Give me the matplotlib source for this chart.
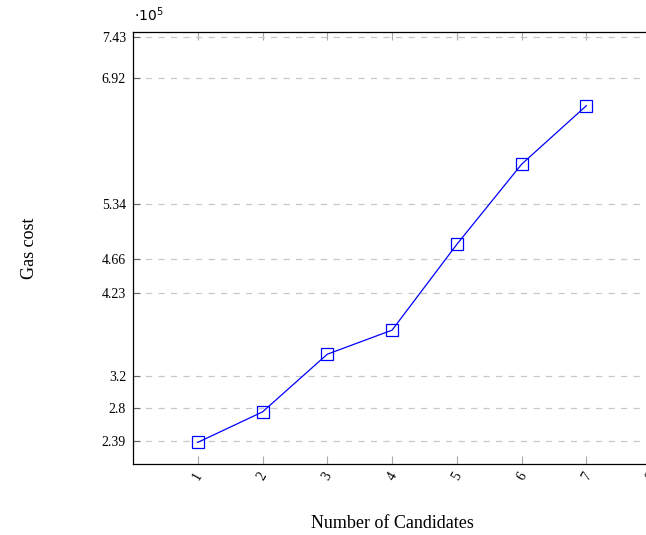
import matplotlib
matplotlib.use("Agg")
import matplotlib.pyplot as plt

plt.rcParams['font.family'] = ['Liberation Serif', 'DejaVu Serif']

# gas cost (x 10^5) per number of candidates
candidates = [1, 2, 3, 4, 5, 6, 7]
gas_cost = [2.37, 2.75, 3.47, 3.77, 4.84, 5.84, 6.57]

y_ticks = [2.39, 2.8, 3.2, 4.23, 4.66, 5.34, 6.92, 7.43]
y_tick_labels = ['2.39', '2.8', '3.2', '4.23', '4.66', '5.34', '6.92', '7.43']
x_ticks = [1, 2, 3, 4, 5, 6, 7, 8]

fig = plt.figure(figsize=(6.46, 5.35), dpi=100)
ax = fig.add_axes([0.2059, 0.1327, 0.802, 0.8075])

ax.plot(candidates, gas_cost, color='blue', linewidth=0.9,
        marker='s', markersize=9, markerfacecolor='none',
        markeredgecolor='blue', markeredgewidth=0.9)

ax.set_xlim(0, 8)
ax.set_ylim(2.10, 7.49)

ax.set_yticks(y_ticks)
ax.set_yticklabels(y_tick_labels, fontsize=10)
ax.set_xticks(x_ticks)
ax.set_xticklabels([str(v) for v in x_ticks], fontsize=10, rotation=60,
                   ha='center', va='top')

ax.tick_params(axis='x', direction='in', top=True, length=6,
               color='#aaaaaa', width=0.8, pad=4)
ax.tick_params(axis='y', direction='in', left=True, length=5,
               color='#666666', width=0.8, pad=5)

ax.grid(axis='y', linestyle=(0, (5, 5)), color='#c8c8c8', linewidth=0.9)
ax.set_axisbelow(True)

for side in ['left', 'bottom', 'top']:
    ax.spines[side].set_color('black')
    ax.spines[side].set_linewidth(0.9)
ax.spines['right'].set_visible(False)

ax.set_xlabel('Number of Candidates', fontsize=13, labelpad=24)
ax.set_ylabel('Gas cost', fontsize=13, labelpad=46)

fig.text(0.207, 0.955, r'$\cdot 10^5$', fontsize=10, ha='left', va='bottom')

fig.savefig('out.png', dpi=100)
